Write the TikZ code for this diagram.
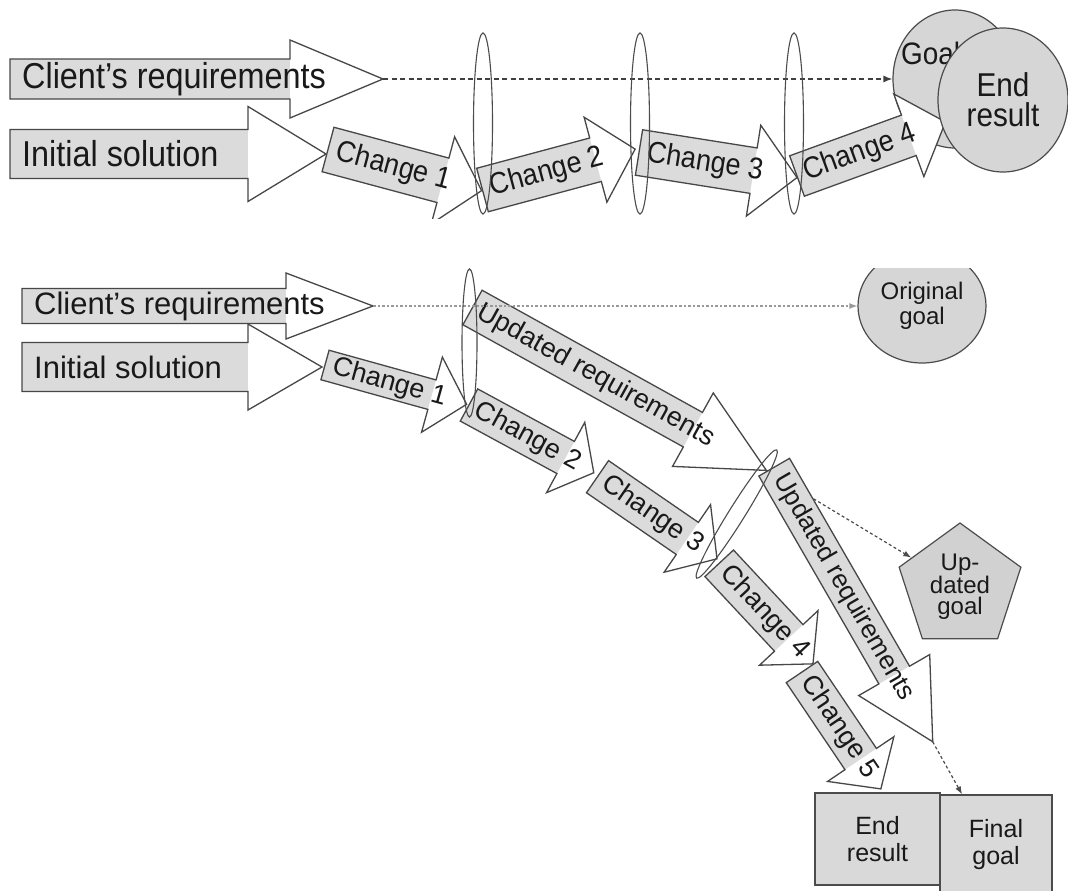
\documentclass[tikz,border=0pt]{standalone}
\usepackage{fontspec}
\setmainfont{Liberation Sans}
\newfontfamily\tfam{Liberation Sans}[FakeStretch=0.9]
\usetikzlibrary{shapes.geometric,arrows.meta,calc}

\newcommand{\topbig}{\tfam\fontsize{36}{40}\selectfont}
\newcommand{\topch}{\tfam\fontsize{30}{34}\selectfont}
\newcommand{\lowbig}{\fontsize{31}{36}\selectfont}
\newcommand{\lowch}{\fontsize{27}{30}\selectfont}
\newcommand{\lowchs}{\fontsize{26}{30}\selectfont}

\tikzset{
 arrline/.style={draw=black!72, line width=1.3pt},
 shaftfill/.style={fill=black!14},
 arrtext/.style={anchor=west, transform shape, inner sep=0pt, text=black!90},
 topdash/.style={draw=black!75, line width=1.2pt, dash pattern=on 5pt off 3.5pt, -{Latex[length=9pt,width=7pt]}},
 lowdash/.style={draw=black!40, line width=1.3pt, dash pattern=on 2.5pt off 2pt, -{Latex[length=8pt,width=6pt]}},
 lowdashb/.style={draw=black!70, line width=1.2pt, dash pattern=on 3pt off 2.5pt, -{Latex[length=8pt,width=6pt]}},
 lens/.style={draw=black!70, line width=1.1pt},
 goalell/.style={ellipse, draw=black!70, line width=1.2pt, fill=black!16, inner sep=0pt, align=center, text=black!90},
 goalbox/.style={rectangle, draw=black!70, line width=1.2pt, fill=black!15, inner sep=0pt, align=center, text=black!90}
}

% #1 name, #2 start, #3 angle, #4 length, #5 head base, #6 shaft half width, #7 head half width, #8 text options, #9 text
\newcommand{\barrow}[9]{%
 \begin{scope}[shift={#2}, rotate=#3]
  \fill[white] (0,-#6) -- (#5,-#6) -- (#5,-#7) -- (#4,0) -- (#5,#7) -- (#5,#6) -- (0,#6) -- cycle;
  \fill[shaftfill] (0,-#6) rectangle (#5,#6);
  \draw[arrline] (0,-#6) -- (#5,-#6) -- (#5,-#7) -- (#4,0) -- (#5,#7) -- (#5,#6) -- (0,#6) -- cycle;
  \coordinate (#1-tail) at (0,0);
  \coordinate (#1-tip) at (#4,0);
  \node[arrtext, #8] (#1-label) {#9};
 \end{scope}}

\begin{document}
\begin{tikzpicture}[x=1pt,y=-1pt]
\useasboundingbox (0,0) rectangle (1068,891);
\fill[white] (0,0) rectangle (1068,891);

% ---------------- top panel ----------------
\begin{scope}
 \clip (0,0) rectangle (1068,218);
 \barrow{tcl}{(10,79)}{0}{373}{280}{20}{39}{font=\topbig, at={(12,0)}}{Client’s requirements}
 \barrow{tin}{(10,154)}{0}{316}{238}{24.5}{47.5}{font=\topbig, at={(12,0)}}{Initial solution}
 \barrow{tc1}{(328,149.5)}{-15}{159}{119}{23}{45}{font=\topch, at={(9,0)}}{Change 1}
 \barrow{tc2}{(482.5,190)}{15}{158}{117}{22.5}{44}{font=\topch, at={(8,0)}}{Change 2}
 \barrow{tc3}{(639,152.5)}{-9}{160}{116}{23}{46}{font=\topch, at={(8,0)}}{Change 3}
 \node[goalell, minimum width=124pt, minimum height=138pt] (goal) at (955,79) {};
 \node[anchor=base west, inner sep=0pt, font=\tfam\fontsize{31}{34}\selectfont, text=black!90] (goaltxt) at (901,65) {Goal};
 \draw[topdash] (tcl-tip) -- (goal.west);
 \barrow{tc4}{(797,176)}{20}{158}{119}{21.5}{44}{font=\topch, at={(8,0)}}{Change 4}
 \node[goalell, minimum width=130pt, minimum height=144pt, font=\tfam\fontsize{33}{30}\selectfont] (endres) at (1003,100) {End\\result};
 \draw[lens] (483,123.5) ellipse [x radius=9.5, y radius=90.5];
 \draw[lens] (640,123.5) ellipse [x radius=9.5, y radius=90.5];
 \draw[lens] (794,123.5) ellipse [x radius=9.5, y radius=90.5];
\end{scope}

% ---------------- lower panel ----------------
\begin{scope}
 \clip (0,268) rectangle (1068,891);
 \node[goalell, minimum width=128pt, minimum height=114pt, font=\fontsize{24}{25}\selectfont] (ogoal) at (922,306) {Original\\goal};
 \node[regular polygon, regular polygon sides=5, minimum size=128pt, draw=black!70, line width=1.2pt, fill=black!18, inner sep=0pt, align=center, text=black!90, font=\fontsize{24}{21}\selectfont] (ugoal) at (960,587) {Up-\\dated\\goal};
 \node[goalbox, minimum width=112pt, minimum height=100pt, font=\fontsize{25}{27}\selectfont] (fgoal) at (996,845) {Final\\goal};
 \node[goalbox, minimum width=125pt, minimum height=92pt, font=\fontsize{25}{27}\selectfont] (lend) at (877.5,839) {End\\result};

 \barrow{lcl}{(22,306)}{0}{351}{264}{17.5}{33}{font=\lowbig, at={(12,0)}}{Client’s requirements}
 \barrow{lin}{(22,367)}{0}{300}{226}{24.5}{43}{font=\lowbig, at={(12,0)}}{Initial solution}
 \barrow{lc1}{(325,365)}{-15.5}{147}{111}{15.3}{39}{font=\lowch, at={(8,0)}}{Change 1}
 \barrow{lu1}{(472.5,307.5)}{-29}{336}{252}{19.75}{42}{font=\lowch, at={(7,0)}}{Updated requirements}
 \barrow{lc2}{(469,405)}{-28.5}{142}{110}{18.3}{40}{font=\lowch, at={(8,0)}}{Change 2}
 \draw[lowdash] (lcl-tip) -- (ogoal);
 \draw[lowdashb] (lu1-tip) -- (ugoal);
 \barrow{lc3}{(597.5,476.7)}{-34.5}{145}{109}{19.5}{41}{font=\lowch, at={(8,0)}}{Change 3}
 \barrow{lc4}{(719.2,563.3)}{-47}{137.5}{102}{19.5}{40}{font=\lowch, at={(8,0)}}{Change 4}
 \barrow{lc5}{(802,672)}{-56}{141}{105}{19}{40}{font=\lowch, at={(8,0)}}{Change 5}
 \barrow{lu2}{(774.2,467.2)}{-60}{317}{240}{17.7}{41}{font=\lowchs, at={(10,0)}}{Updated requirements}
 \draw[lowdashb] (lu2-tip) -- ($(fgoal.north west)!0.2!(fgoal.north east)$);
 \draw[lens] (469.5,343) ellipse [x radius=7.5, y radius=74];
 \draw[lens, rotate around={58:(736.7,514)}] (736.7,514) ellipse [x radius=75.6, y radius=8];
\end{scope}
\end{tikzpicture}
\end{document}
